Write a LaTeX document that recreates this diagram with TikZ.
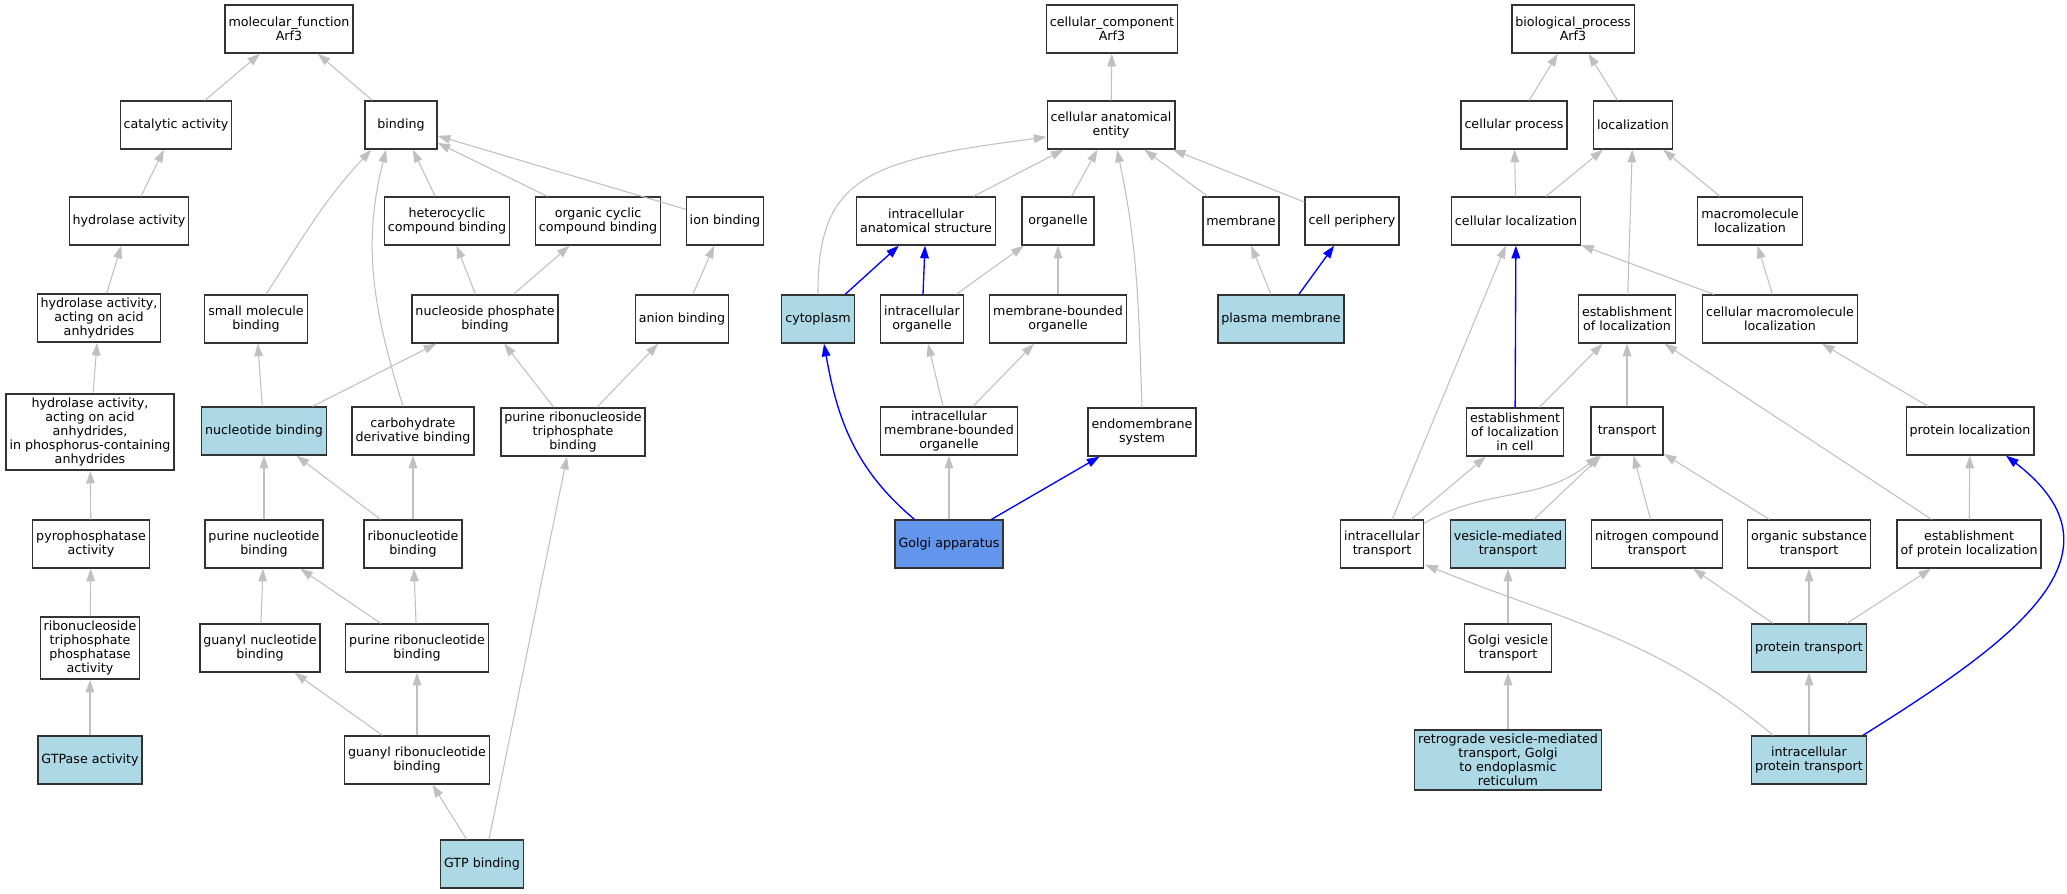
\documentclass[tikz,border=0pt]{standalone}
\usepackage{fontspec}
\setmainfont{DejaVu Sans}
\usetikzlibrary{arrows.meta,calc}
\definecolor{annotblue}{HTML}{ADD8E6}
\definecolor{golgiblue}{HTML}{6495ED}
\definecolor{edgegray}{HTML}{C0C0C0}
\pgfmathsetmacro{\tipLen}{9.5}
\pgfmathsetmacro{\tipWid}{6.5}
\tikzset{
	term/.style= {
		shape=rectangle, draw=black!80, line width=1pt,
		fill=white, align=center,
		minimum width=54pt, minimum height=36pt,
		inner xsep=2.6pt, inner ysep=3pt,
		font=\fontsize{9.5}{10.5}\selectfont
	},
	annotated/.style={term, fill=annotblue},
	isa/.style={draw=edgegray, line width=0.8pt, -{Triangle[length=\tipLen pt,width=\tipWid pt]}},
	hit/.style={draw=blue, line width=1pt, -{Triangle[length=\tipLen pt,width=\tipWid pt]}}
}

\begin{document}
\begin{tikzpicture}[x=0.75pt,y=0.75pt]
\useasboundingbox (0,0) rectangle (2067,-893);

% molecular function
\node[term] (mf) at (289,-29) {molecular\_function\\Arf3};
\node[term] (cat) at (176,-125) {catalytic activity};
\node[term] (bind) at (401,-125) {binding};
\node[term] (hyd) at (129,-221) {hydrolase activity};
\node[term] (het) at (447,-221) {heterocyclic\\compound binding};
\node[term] (orgcyc) at (598,-221) {organic cyclic\\compound binding};
\node[term] (ion) at (725,-221) {ion binding};
\node[term] (hydacid) at (99,-318) {hydrolase activity,\\acting on acid\\anhydrides};
\node[term] (smb) at (256,-319) {small molecule\\binding};
\node[term] (nph) at (485,-319) {nucleoside phosphate\\binding};
\node[term] (anion) at (682,-319) {anion binding};
\node[term] (hydphos) at (90,-432) {hydrolase activity,\\acting on acid\\anhydrides,\\in phosphorus-containing\\anhydrides};
\node[annotated] (nucb) at (264,-431) {nucleotide binding};
\node[term] (carb) at (413,-431) {carbohydrate\\derivative binding};
\node[term] (prtb) at (573,-432) {purine ribonucleoside\\triphosphate\\binding};
\node[term] (pyro) at (91,-544) {pyrophosphatase\\activity};
\node[term] (purnuc) at (264,-544) {purine nucleotide\\binding};
\node[term] (ribo) at (413,-544) {ribonucleotide\\binding};
\node[term] (rntp) at (90,-648) {ribonucleoside\\triphosphate\\phosphatase\\activity};
\node[term] (guanuc) at (260,-648) {guanyl nucleotide\\binding};
\node[term] (purribo) at (417,-648) {purine ribonucleotide\\binding};
\node[annotated] (gtpase) at (90,-760) {GTPase activity};
\node[term] (guaribo) at (417,-760) {guanyl ribonucleotide\\binding};
\node[annotated] (gtp) at (482,-864) {GTP binding};

\draw[isa] (cat) -- (mf);
\draw[isa] (bind) -- (mf);
\draw[isa] (hyd) -- (cat);
\draw[isa] (hydacid) -- (hyd);
\draw[isa] (hydphos) -- (hydacid);
\draw[isa] (pyro) -- (hydphos);
\draw[isa] (rntp) -- (pyro);
\draw[isa] (gtpase) -- (rntp);
\draw[isa] ($(smb.north)+(10,0)$) to[out=57,in=-133] ($(bind.south west)+(7,0)$);
\draw[isa] ($(carb.north)+(-10,0)$) to[out=107,in=-104] ($(bind.south)+(-15,0)$);
\draw[isa] (het) -- (bind);
\draw[isa] (orgcyc) -- (bind);
\draw[isa] (ion) -- (bind);
\draw[isa] (nph) -- (het);
\draw[isa] (nph) -- (orgcyc);
\draw[isa] (anion) -- (ion);
\draw[isa] (nucb) -- (smb);
\draw[isa] (nucb) -- (nph);
\draw[isa] (prtb) -- (nph);
\draw[isa] (prtb) -- (anion);
\draw[isa] (purnuc) -- (nucb);
\draw[isa] (ribo) -- (nucb);
\draw[isa] (ribo) -- (carb);
\draw[isa] (guanuc) -- (purnuc);
\draw[isa] (purribo) -- (purnuc);
\draw[isa] (purribo) -- (ribo);
\draw[isa] (guaribo) -- (guanuc);
\draw[isa] (guaribo) -- (purribo);
\draw[isa] (gtp) -- (guaribo);
\draw[isa] ($(gtp.north)+(7,0)$) -- ($(prtb.south)+(-6,0)$);

% cellular component
\node[term] (cc) at (1112,-29) {cellular\_component\\Arf3};
\node[term] (cae) at (1111,-125) {cellular anatomical\\entity};
\node[term] (ias) at (926,-221) {intracellular\\anatomical structure};
\node[term] (organelle) at (1058,-221) {organelle};
\node[term] (membrane) at (1241,-221) {membrane};
\node[term] (periph) at (1352,-221) {cell periphery};
\node[annotated] (cyto) at (818,-319) {cytoplasm};
\node[term] (intorg) at (922,-319) {intracellular\\organelle};
\node[term] (mbo) at (1058,-319) {membrane-bounded\\organelle};
\node[annotated] (pm) at (1281,-319) {plasma membrane};
\node[term] (imbo) at (949,-431) {intracellular\\membrane-bounded\\organelle};
\node[term] (endo) at (1142,-432) {endomembrane\\system};
\node[term, fill=golgiblue] (golgi) at (949,-544) {Golgi apparatus};

\draw[isa] (cae) -- (cc);
\draw[isa] (ias) -- (cae);
\draw[isa] (organelle) -- (cae);
\draw[isa] (membrane) -- (cae);
\draw[isa] (periph) -- (cae);
\draw[isa] (cyto.north) .. controls (817,-175) and (870,-160) .. ($(cae.west)+(0,-12)$);
\draw[isa] (endo.north) to[out=92,in=-78] ($(cae.south)+(6,0)$);
\draw[hit] (cyto) -- (ias);
\draw[hit] (intorg) -- (ias);
\draw[isa] (intorg) -- (organelle);
\draw[isa] (mbo) -- (organelle);
\draw[isa] (pm) -- (membrane);
\draw[hit] (pm) -- (periph);
\draw[isa] (imbo) -- (intorg);
\draw[isa] (imbo) -- (mbo);
\draw[isa] (golgi) -- (imbo);
\draw[hit] ($(golgi.north west)+(20,0)$) to[out=140,in=-80] ($(cyto.south)+(6,0)$);
\draw[hit] (golgi) -- (endo);

% biological process
\node[term] (bp) at (1573,-29) {biological\_process\\Arf3};
\node[term] (cproc) at (1514,-125) {cellular process};
\node[term] (loc) at (1633,-125) {localization};
\node[term] (cloc) at (1516,-221) {cellular localization};
\node[term] (macloc) at (1750,-221) {macromolecule\\localization};
\node[term] (estloc) at (1627,-319) {establishment\\of localization};
\node[term] (cmacloc) at (1780,-319) {cellular macromolecule\\localization};
\node[term] (estcell) at (1515,-432) {establishment\\of localization\\in cell};
\node[term] (transp) at (1627,-431) {transport};
\node[term] (ploc) at (1970,-431) {protein localization};
\node[term] (ictr) at (1382,-544) {intracellular\\transport};
\node[annotated] (vesic) at (1508,-544) {vesicle-mediated\\transport};
\node[term] (nitro) at (1657,-544) {nitrogen compound\\transport};
\node[term] (orgsub) at (1809,-544) {organic substance\\transport};
\node[term] (estprot) at (1969,-544) {establishment\\of protein localization};
\node[term] (golgives) at (1508,-648) {Golgi vesicle\\transport};
\node[annotated] (ptr) at (1809,-648) {protein transport};
\node[annotated] (retro) at (1508,-760) {retrograde vesicle-mediated\\transport, Golgi\\to endoplasmic\\reticulum};
\node[annotated] (iptr) at (1809,-760) {intracellular\\protein transport};

\draw[isa] (cproc) -- (bp);
\draw[isa] (loc) -- (bp);
\draw[isa] (cloc) -- (cproc);
\draw[isa] (cloc) -- (loc);
\draw[isa] (macloc) -- (loc);
\draw[isa] (estloc) -- (loc);
\draw[isa] (cmacloc) -- (cloc);
\draw[isa] (cmacloc) -- (macloc);
\draw[hit] (estcell) -- (cloc);
\draw[isa] (estcell) -- (estloc);
\draw[isa] (transp) -- (estloc);
\draw[isa] (ploc) -- (cmacloc);
\draw[isa] (ictr) -- (cloc);
\draw[isa] (ictr) -- (estcell);
\draw[isa] ($(ictr.north east)+(0,-4)$) to[out=30,in=-140] ($(transp.south west)+(8,0)$);
\draw[isa] (vesic) -- (transp);
\draw[isa] (nitro) -- (transp);
\draw[isa] (orgsub) -- (transp);
\draw[isa] (estprot) -- (estloc);
\draw[isa] (estprot) -- (ploc);
\draw[isa] (golgives) -- (vesic);
\draw[isa] (ptr) -- (nitro);
\draw[isa] (ptr) -- (orgsub);
\draw[isa] (ptr) -- (estprot);
\draw[isa] (retro) -- (golgives);
\draw[isa] (iptr) -- (ptr);
\draw[isa] ($(iptr.north west)+(22,0)$) to[out=140,in=-22] ($(ictr.south east)+(1,4)$);
\draw[hit] ($(iptr.north east)+(-4,0)$) .. controls (2015,-640) and (2134,-554) .. ($(ploc.south)+(36,0)$);
\end{tikzpicture}
\end{document}
